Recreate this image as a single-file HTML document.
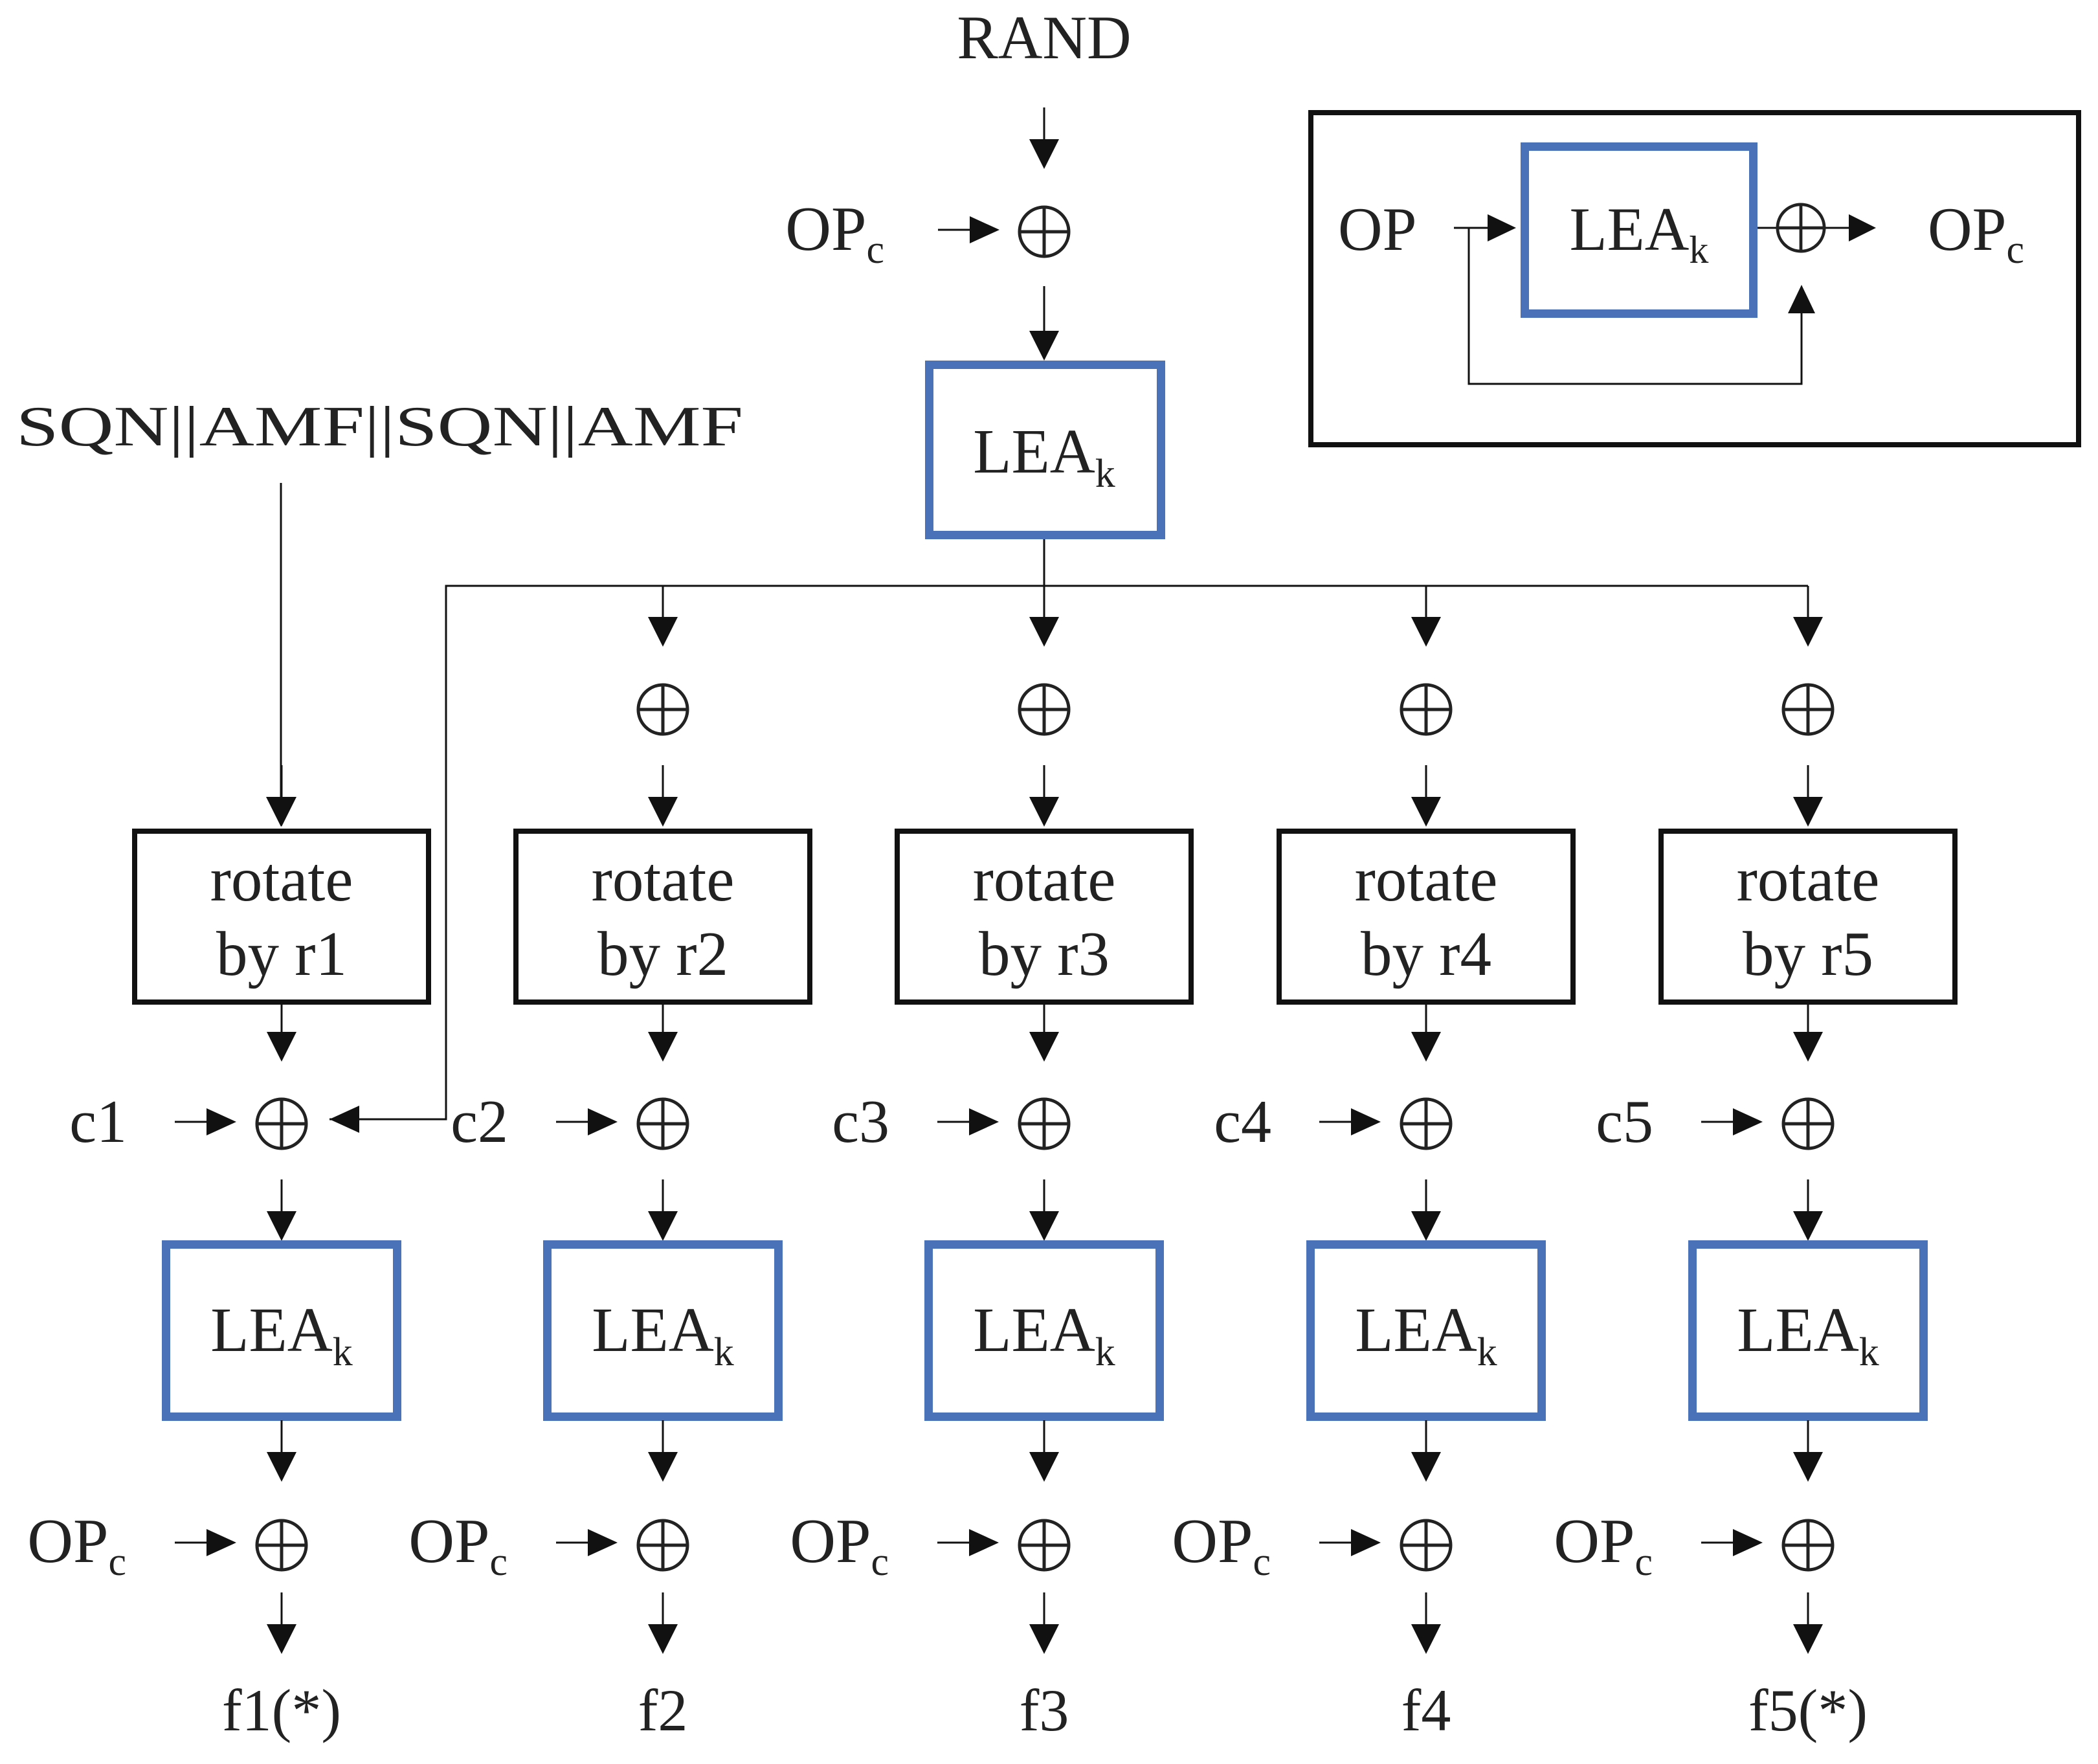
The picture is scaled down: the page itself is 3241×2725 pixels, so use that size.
<!DOCTYPE html>
<html><head><meta charset="utf-8"><style>html,body{margin:0;padding:0;background:#fff}svg{display:block}</style></head>
<body>
<svg width="3241" height="2725" viewBox="0 0 3241 2725" xmlns="http://www.w3.org/2000/svg" font-family="'Liberation Serif', serif" fill="#222">
<defs>
<g id="x"><circle cx="0" cy="0" r="38" fill="none" stroke="#222" stroke-width="5"/><line x1="-38" y1="0" x2="38" y2="0" stroke="#222" stroke-width="5"/><line x1="0" y1="-38" x2="0" y2="38" stroke="#222" stroke-width="5"/></g>
<g id="ad"><line x1="0" y1="-95" x2="0" y2="-40" stroke="#111" stroke-width="3"/><polygon points="-23,-46 23,-46 0,0" fill="#111"/></g>
<g id="ar"><line x1="-95" y1="0" x2="-40" y2="0" stroke="#111" stroke-width="3"/><polygon points="-46,-21 -46,21 0,0" fill="#111"/></g>
</defs>

<text x="1613" y="90" font-size="95" text-anchor="middle">RAND</text>
<use href="#ad" x="1613" y="261"/>
<text x="1366" y="386" font-size="98" text-anchor="end">OP<tspan font-size="62" dy="20">c</tspan></text>
<use href="#ar" x="1544" y="355"/>
<use href="#x" x="1613" y="358"/>
<line x1="1613" y1="442" x2="1613" y2="515" stroke="#111" stroke-width="3"/><polygon points="1590,511 1636,511 1613,557" fill="#111"/>
<rect x="1435.5" y="563.5" width="358" height="263" fill="none" stroke="#4a72b8" stroke-width="13"/>
<text x="1613" y="730" font-size="97" text-anchor="middle">LEA<tspan font-size="62" dy="22">k</tspan></text>

<text x="25" y="688" font-size="88" textLength="1123" lengthAdjust="spacingAndGlyphs">SQN||AMF||SQN||AMF</text>
<line x1="434" y1="746" x2="434" y2="1235" stroke="#111" stroke-width="3"/><polygon points="411,1231 457,1231 434,1277" fill="#111"/>

<line x1="1613" y1="833" x2="1613" y2="955" stroke="#111" stroke-width="3"/>
<polyline points="509,1729 689,1729 689,905 2793,905" fill="none" stroke="#111" stroke-width="3"/>
<polygon points="509,1729 555,1708 555,1750" fill="#111"/>
<line x1="1024" y1="905" x2="1024" y2="955" stroke="#111" stroke-width="3"/><polygon points="1001,953 1047,953 1024,999" fill="#111"/>
<polygon points="1590,953 1636,953 1613,999" fill="#111"/>
<line x1="2203" y1="905" x2="2203" y2="955" stroke="#111" stroke-width="3"/><polygon points="2180,953 2226,953 2203,999" fill="#111"/>
<line x1="2793" y1="905" x2="2793" y2="955" stroke="#111" stroke-width="3"/><polygon points="2770,953 2816,953 2793,999" fill="#111"/>

<rect x="2025" y="174" width="1186" height="513" fill="none" stroke="#111" stroke-width="8"/>
<rect x="2355.5" y="226.5" width="353" height="258" fill="none" stroke="#4a72b8" stroke-width="13"/>
<text x="2532" y="386" font-size="95" text-anchor="middle">LEA<tspan font-size="60" dy="20">k</tspan></text>
<text x="2067" y="386" font-size="95">OP</text>
<line x1="2246" y1="352" x2="2300" y2="352" stroke="#111" stroke-width="3"/><polygon points="2298,331 2298,373 2342,352" fill="#111"/>
<polyline points="2269,352 2269,593 2783,593 2783,480" fill="none" stroke="#111" stroke-width="3"/>
<polygon points="2762,484 2804,484 2783,440" fill="#111"/>
<line x1="2715" y1="352" x2="2858" y2="352" stroke="#111" stroke-width="3"/>
<g transform="translate(2782,352) scale(0.95)"><use href="#x"/></g>
<polygon points="2856,331 2856,373 2898,352" fill="#111"/>
<text x="2978" y="386" font-size="95">OP<tspan font-size="62" dy="20">c</tspan></text>

<g transform="translate(435,0)">
<use href="#ad" x="0" y="1277"/>
<rect x="-227" y="1284" width="454" height="264" fill="none" stroke="#111" stroke-width="8"/>
<text x="0" y="1391" font-size="97" text-anchor="middle">rotate</text>
<text x="0" y="1506" font-size="97" text-anchor="middle">by r1</text>
<use href="#ad" x="0" y="1640"/>
<text x="-239" y="1764" font-size="94" text-anchor="end">c1</text>
<use href="#ar" x="-70" y="1733"/>
<use href="#x" x="0" y="1736"/>
<use href="#ad" x="0" y="1917"/>
<rect x="-178.5" y="1922.5" width="357" height="266" fill="none" stroke="#4a72b8" stroke-width="13"/>
<text x="0" y="2087" font-size="97" text-anchor="middle">LEA<tspan font-size="62" dy="22">k</tspan></text>
<use href="#ad" x="0" y="2289"/>
<text x="-240" y="2413" font-size="98" text-anchor="end">OP<tspan font-size="62" dy="20">c</tspan></text>
<use href="#ar" x="-70" y="2383"/>
<use href="#x" x="0" y="2387"/>
<use href="#ad" x="0" y="2555"/>
<text x="0" y="2673" font-size="92" text-anchor="middle">f1(*)</text>
</g>
<g transform="translate(1024,0)">
<use href="#x" x="0" y="1096"/>
<use href="#ad" x="0" y="1277"/>
<rect x="-227" y="1284" width="454" height="264" fill="none" stroke="#111" stroke-width="8"/>
<text x="0" y="1391" font-size="97" text-anchor="middle">rotate</text>
<text x="0" y="1506" font-size="97" text-anchor="middle">by r2</text>
<use href="#ad" x="0" y="1640"/>
<text x="-239" y="1764" font-size="94" text-anchor="end">c2</text>
<use href="#ar" x="-70" y="1733"/>
<use href="#x" x="0" y="1736"/>
<use href="#ad" x="0" y="1917"/>
<rect x="-178.5" y="1922.5" width="357" height="266" fill="none" stroke="#4a72b8" stroke-width="13"/>
<text x="0" y="2087" font-size="97" text-anchor="middle">LEA<tspan font-size="62" dy="22">k</tspan></text>
<use href="#ad" x="0" y="2289"/>
<text x="-240" y="2413" font-size="98" text-anchor="end">OP<tspan font-size="62" dy="20">c</tspan></text>
<use href="#ar" x="-70" y="2383"/>
<use href="#x" x="0" y="2387"/>
<use href="#ad" x="0" y="2555"/>
<text x="0" y="2673" font-size="92" text-anchor="middle">f2</text>
</g>
<g transform="translate(1613,0)">
<use href="#x" x="0" y="1096"/>
<use href="#ad" x="0" y="1277"/>
<rect x="-227" y="1284" width="454" height="264" fill="none" stroke="#111" stroke-width="8"/>
<text x="0" y="1391" font-size="97" text-anchor="middle">rotate</text>
<text x="0" y="1506" font-size="97" text-anchor="middle">by r3</text>
<use href="#ad" x="0" y="1640"/>
<text x="-239" y="1764" font-size="94" text-anchor="end">c3</text>
<use href="#ar" x="-70" y="1733"/>
<use href="#x" x="0" y="1736"/>
<use href="#ad" x="0" y="1917"/>
<rect x="-178.5" y="1922.5" width="357" height="266" fill="none" stroke="#4a72b8" stroke-width="13"/>
<text x="0" y="2087" font-size="97" text-anchor="middle">LEA<tspan font-size="62" dy="22">k</tspan></text>
<use href="#ad" x="0" y="2289"/>
<text x="-240" y="2413" font-size="98" text-anchor="end">OP<tspan font-size="62" dy="20">c</tspan></text>
<use href="#ar" x="-70" y="2383"/>
<use href="#x" x="0" y="2387"/>
<use href="#ad" x="0" y="2555"/>
<text x="0" y="2673" font-size="92" text-anchor="middle">f3</text>
</g>
<g transform="translate(2203,0)">
<use href="#x" x="0" y="1096"/>
<use href="#ad" x="0" y="1277"/>
<rect x="-227" y="1284" width="454" height="264" fill="none" stroke="#111" stroke-width="8"/>
<text x="0" y="1391" font-size="97" text-anchor="middle">rotate</text>
<text x="0" y="1506" font-size="97" text-anchor="middle">by r4</text>
<use href="#ad" x="0" y="1640"/>
<text x="-239" y="1764" font-size="94" text-anchor="end">c4</text>
<use href="#ar" x="-70" y="1733"/>
<use href="#x" x="0" y="1736"/>
<use href="#ad" x="0" y="1917"/>
<rect x="-178.5" y="1922.5" width="357" height="266" fill="none" stroke="#4a72b8" stroke-width="13"/>
<text x="0" y="2087" font-size="97" text-anchor="middle">LEA<tspan font-size="62" dy="22">k</tspan></text>
<use href="#ad" x="0" y="2289"/>
<text x="-240" y="2413" font-size="98" text-anchor="end">OP<tspan font-size="62" dy="20">c</tspan></text>
<use href="#ar" x="-70" y="2383"/>
<use href="#x" x="0" y="2387"/>
<use href="#ad" x="0" y="2555"/>
<text x="0" y="2673" font-size="92" text-anchor="middle">f4</text>
</g>
<g transform="translate(2793,0)">
<use href="#x" x="0" y="1096"/>
<use href="#ad" x="0" y="1277"/>
<rect x="-227" y="1284" width="454" height="264" fill="none" stroke="#111" stroke-width="8"/>
<text x="0" y="1391" font-size="97" text-anchor="middle">rotate</text>
<text x="0" y="1506" font-size="97" text-anchor="middle">by r5</text>
<use href="#ad" x="0" y="1640"/>
<text x="-239" y="1764" font-size="94" text-anchor="end">c5</text>
<use href="#ar" x="-70" y="1733"/>
<use href="#x" x="0" y="1736"/>
<use href="#ad" x="0" y="1917"/>
<rect x="-178.5" y="1922.5" width="357" height="266" fill="none" stroke="#4a72b8" stroke-width="13"/>
<text x="0" y="2087" font-size="97" text-anchor="middle">LEA<tspan font-size="62" dy="22">k</tspan></text>
<use href="#ad" x="0" y="2289"/>
<text x="-240" y="2413" font-size="98" text-anchor="end">OP<tspan font-size="62" dy="20">c</tspan></text>
<use href="#ar" x="-70" y="2383"/>
<use href="#x" x="0" y="2387"/>
<use href="#ad" x="0" y="2555"/>
<text x="0" y="2673" font-size="92" text-anchor="middle">f5(*)</text>
</g>
</svg>
</body></html>
